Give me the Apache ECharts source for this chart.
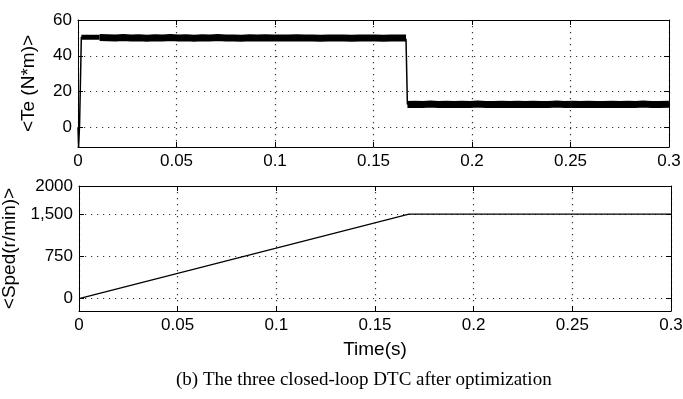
<!DOCTYPE html>
<html>
<head>
<meta charset="utf-8">
<script src="https://cdn.jsdelivr.net/npm/echarts@6/dist/echarts.min.js"></script>
<style>
html,body{margin:0;padding:0;background:#fff;}
#chart{width:683px;height:399px;}
</style>
</head>
<body>
<div id="chart"></div>
<script>
// ---- tick values and labels ----
const xTicks = [0, 0.05, 0.1, 0.15, 0.2, 0.25, 0.3];
const xTickLabels = ['0', '0.05', '0.1', '0.15', '0.2', '0.25', '0.3'];
const teTicks = [0, 20, 40, 60];
const teTickLabels = ['0', '20', '40', '60'];
const spTicks = [0, 750, 1500, 2000];
const spTickLabels = ['0', '750', '1,500', '2000'];

// ---- torque Te (N*m) vs time (s) ----
const teStartup = [[0, 0], [0.0003, -11], [0.0008, 1.5], [0.0016, 2], [0.0017, 50.6]];
const teBandInit = [[0.0017, 50.4], [0.011, 50.3]];
const teUpperBand = [
  [0.011, 50.2], [0.015, 50.1], [0.019, 49.9], [0.023, 50.2], [0.027, 49.9],
  [0.031, 50.1], [0.035, 49.8], [0.039, 50.1], [0.043, 49.9], [0.047, 50.2],
  [0.051, 50.0], [0.055, 50.1], [0.059, 49.8], [0.063, 50.1], [0.067, 49.9],
  [0.071, 50.2], [0.075, 49.9], [0.079, 50.0], [0.083, 49.8], [0.087, 50.1],
  [0.091, 49.9], [0.095, 50.1], [0.099, 49.9], [0.103, 50.0], [0.107, 49.9],
  [0.111, 50.1], [0.115, 49.9], [0.119, 50.0], [0.123, 49.8], [0.127, 50.0],
  [0.131, 49.9], [0.135, 50.0], [0.139, 49.8], [0.143, 50.0], [0.147, 49.9],
  [0.151, 50.0], [0.155, 49.8], [0.159, 50.0], [0.163, 49.9], [0.1665, 49.9]
];
const teDrop = [[0.1665, 49.5], [0.1672, 12.8]];
const teLowerBand = [
  [0.1672, 12.8], [0.171, 12.9], [0.175, 12.7], [0.179, 13.0], [0.183, 12.8],
  [0.187, 12.9], [0.191, 12.7], [0.195, 12.9], [0.199, 12.7], [0.203, 13.0],
  [0.207, 12.8], [0.211, 12.7], [0.215, 12.9], [0.219, 12.8], [0.223, 12.9],
  [0.227, 12.7], [0.231, 12.9], [0.235, 12.8], [0.239, 12.7], [0.243, 13.0],
  [0.247, 12.8], [0.251, 12.9], [0.255, 12.7], [0.259, 12.9], [0.263, 12.8],
  [0.267, 12.7], [0.271, 12.9], [0.275, 12.8], [0.279, 12.9], [0.283, 12.7],
  [0.287, 13.0], [0.291, 12.8], [0.295, 12.7], [0.3, 12.9]
];

// ---- speed (r/min) vs time (s) ----
const speedData = [[0, 0], [0.1672, 1500], [0.3, 1500]];

const FONT = 'Liberation Sans, Arial, sans-serif';
const tickFont = { fontFamily: FONT, fontSize: 17, color: '#000' };
const gridDot = { show: true, lineStyle: { color: '#333', width: 1.2, type: [1.2, 4.8] } };
const axisLine = { show: true, onZero: false, lineStyle: { color: '#000', width: 1 } };
const tickIn = (vals) => ({ show: true, inside: true, length: 5, customValues: vals, lineStyle: { color: '#000', width: 1 } });
const lookup = (vals, labels) => (v) => {
  const i = vals.findIndex(t => Math.abs(t - v) < 1e-9);
  return i >= 0 ? labels[i] : '';
};

function xPair(grid) {
  return [
    { type: 'value', gridIndex: grid, position: 'bottom', min: 0, max: 0.3,
      axisLine: axisLine, axisTick: tickIn(xTicks),
      axisLabel: Object.assign({ customValues: xTicks, margin: 6, formatter: lookup(xTicks, xTickLabels) }, tickFont),
      splitLine: gridDot },
    { type: 'value', gridIndex: grid, position: 'top', min: 0, max: 0.3,
      axisLine: axisLine, axisTick: tickIn(xTicks),
      axisLabel: { show: false, customValues: xTicks }, splitLine: { show: false } }
  ];
}
function yPair(grid, min, max, ticks, labels, name, gap) {
  return [
    { type: 'value', gridIndex: grid, position: 'left', min: min, max: max,
      axisLine: axisLine, axisTick: tickIn(ticks),
      axisLabel: Object.assign({ customValues: ticks, margin: 6, formatter: lookup(ticks, labels) }, tickFont),
      splitLine: gridDot,
      name: name, nameLocation: 'middle', nameGap: gap, nameRotate: 90,
      nameTextStyle: { fontFamily: FONT, fontSize: 19, color: '#000' } },
    { type: 'value', gridIndex: grid, position: 'right', min: min, max: max,
      axisLine: axisLine, axisTick: tickIn(ticks),
      axisLabel: { show: false, customValues: ticks }, splitLine: { show: false } }
  ];
}

const xAxes = xPair(0).concat(xPair(1));
xAxes[2].name = 'Time(s)';
xAxes[2].nameLocation = 'middle';
xAxes[2].nameGap = 29;
xAxes[2].nameTextStyle = { fontFamily: FONT, fontSize: 19, color: '#000' };

const yAxes = yPair(0, -11, 60, teTicks, teTickLabels, '<Te (N*m)>', 40)
  .concat(yPair(1, -220, 2000, spTicks, spTickLabels, '<Sped(r/min)>', 45));

function line(data, w, xi, yi) {
  return { type: 'line', data: data, xAxisIndex: xi, yAxisIndex: yi, symbol: 'none',
    animation: false, lineStyle: { color: '#000', width: w, join: 'miter' }, z: 3 };
}

const option = {
  backgroundColor: '#fff',
  animation: false,
  grid: [
    { left: 78, top: 20, width: 591, height: 127, containLabel: false, outerBoundsMode: 'none' },
    { left: 79, top: 186, width: 592, height: 125, containLabel: false, outerBoundsMode: 'none' }
  ],
  xAxis: xAxes,
  yAxis: yAxes,
  series: [
    line(teStartup, 1.5, 0, 0),
    line(teBandInit, 5, 0, 0),
    line(teUpperBand, 7, 0, 0),
    line(teDrop, 1.5, 0, 0),
    line(teLowerBand, 7, 0, 0),
    line(speedData, 1.3, 2, 2)
  ],
  graphic: [
    { type: 'text', left: 176, top: 371,
      style: { text: '(b) The three closed-loop DTC after optimization',
        font: '19px "Liberation Serif", "Times New Roman", serif', fill: '#000' } }
  ]
};

const chart = echarts.init(document.getElementById('chart'), null, { renderer: 'canvas' });
chart.setOption(option);
</script>
</body>
</html>
